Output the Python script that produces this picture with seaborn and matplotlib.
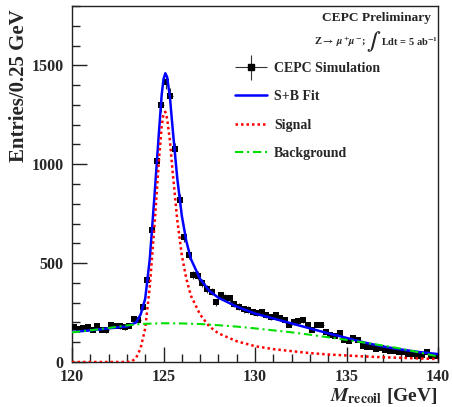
import numpy as np
import pandas as pd
import seaborn as sns
import matplotlib
matplotlib.use("Agg")
import matplotlib.pyplot as plt
from matplotlib.lines import Line2D
from matplotlib.ticker import MultipleLocator
from matplotlib.container import ErrorbarContainer
from matplotlib.legend_handler import HandlerErrorbar, HandlerTuple

# ---------------- data ----------------
bin_low = 120.0
bin_width = 0.25
counts = [
    177, 167, 172, 175, 163, 180, 163, 160, 189, 184, 180, 177, 184, 217, 211, 278,
    413, 669, 1016, 1300, 1416, 1347, 1075, 819, 632, 543, 440, 437, 398, 369, 356, 302,
    337, 325, 322, 293, 280, 266, 265, 254, 248, 251, 239, 228, 236, 222, 214, 189,
    200, 205, 211, 185, 163, 189, 189, 152, 138, 131, 148, 113, 108, 121, 113, 79,
    76, 74, 67, 69, 62, 57, 54, 51, 51, 42, 40, 32, 37, 51, 32, 30,
]

fit_x = [120, 121, 122, 123, 123.5, 123.75, 124, 124.25, 124.5, 124.75, 124.9, 125.0,
         125.1, 125.2, 125.35, 125.5, 125.75, 126, 126.25, 126.5, 127, 127.5, 128,
         129, 130, 131, 132, 133, 134, 135, 136, 137, 138, 139, 140]
fit_total = [152, 160, 170, 180, 200, 240, 320, 520, 830, 1160, 1350, 1430,
             1460, 1440, 1340, 1180, 930, 740, 610, 520, 420, 360, 325,
             280, 245, 220, 195, 170, 145, 122, 98, 78, 63, 50, 40]

sig_x = [120, 121, 122, 123, 123.25, 123.5, 123.75, 124, 124.25, 124.5, 124.75, 124.9,
         125.0, 125.1, 125.2, 125.35, 125.5, 125.75, 126, 126.25, 126.5, 127, 127.5,
         128, 129, 130, 131, 132, 133, 134, 135, 136, 137, 138, 139, 140]
sig_y = [0, 0, 0, 0, 2, 20, 70, 170, 380, 680, 1020, 1190,
         1255, 1265, 1230, 1120, 960, 720, 540, 420, 335, 240, 180,
         145, 105, 80, 65, 55, 45, 38, 33, 28, 24, 21, 18, 15]

bkg_x = [120, 121, 122, 123, 123.5, 124, 125, 126, 127, 128, 129, 130, 131, 132,
         133, 134, 135, 136, 137, 138, 139, 140]
bkg_y = [150, 160, 172, 185, 190, 193, 196, 195, 192, 186, 179, 170, 160, 150,
         138, 125, 112, 98, 83, 67, 48, 28]

labels = ["CEPC Simulation", "S+B Fit", "Signal", "Background"]

# ---------------- style ----------------
sns.set_style("ticks")
plt.rcParams["font.family"] = ["Liberation Serif", "DejaVu Serif"]
plt.rcParams["font.weight"] = "bold"
plt.rcParams["mathtext.fontset"] = "stix"
plt.rcParams["axes.linewidth"] = 1.0
plt.rcParams["axes.edgecolor"] = "#222222"

W, H = 453, 407
fig = plt.figure(figsize=(W / 100, H / 100), dpi=100)
ax = fig.add_axes([72 / W, 45 / H, 366 / W, 356 / H])

centers = bin_low + bin_width * (np.arange(len(counts)) + 0.5)
counts_arr = np.array(counts, dtype=float)
df = pd.DataFrame({"m": centers, "n": counts_arr})

errc = ax.errorbar(df["m"], df["n"], xerr=bin_width / 2, yerr=np.sqrt(df["n"]),
                   fmt="none", ecolor="#333333", elinewidth=0.8, zorder=2)
sns.scatterplot(data=df, x="m", y="n", marker="s", color="black", s=18,
                linewidth=0, ax=ax, zorder=3, legend=False)

sns.lineplot(x=fit_x, y=fit_total, color="#0000ff", lw=1.8, ax=ax, zorder=4)
sns.lineplot(x=sig_x, y=sig_y, color="#ff0000", lw=1.8, ax=ax, zorder=5,
             linestyle=(0, (1, 1.2)))
sns.lineplot(x=bkg_x, y=bkg_y, color="#00e000", lw=1.5, ax=ax, zorder=6,
             linestyle=(0, (4, 1.8, 1, 1.8)))

ax.set_xlim(120, 140)
ax.set_ylim(0, 1800)
ax.xaxis.set_major_locator(MultipleLocator(5))
ax.xaxis.set_minor_locator(MultipleLocator(1))
ax.yaxis.set_major_locator(MultipleLocator(500))
ax.yaxis.set_minor_locator(MultipleLocator(100))
ax.tick_params(which="both", direction="in", top=False, right=False,
               labelsize=11.5, color="#222222")
ax.tick_params(which="major", length=11, width=1)
ax.tick_params(which="minor", length=6, width=1)
ax.tick_params(axis="x", pad=5)
ax.tick_params(axis="y", pad=6)
ax.set_xlabel("")
ax.set_ylabel("")
for sp in ax.spines.values():
    sp.set_visible(True)

fig.text(19 / W, 1 - 9 / H, "Entries/0.25 GeV", rotation=90, ha="center",
         va="top", fontsize=15, fontweight="bold")
fig.text(438 / W, 1 - 401 / H, r"$\mathit{M}_{\mathrm{\mathbf{recoil}}}$ [GeV]",
         ha="right", va="baseline", fontsize=14, fontweight="bold")

# top-right text
fig.text(431 / W, 1 - 18 / H, "CEPC Preliminary", ha="right", va="center",
         fontsize=9.6, fontweight="bold")
fig.text(366 / W, 1 - 42 / H, r"Z$\rightarrow$ $\mu^{+}\mu^{-}$;", ha="right",
         va="center", fontsize=7.5, fontweight="bold")
fig.text(374 / W, 1 - 42 / H, r"$\int$", ha="center", va="center", fontsize=13)
fig.text(381 / W, 1 - 42 / H, r"Ldt = 5 ab$^{-1}$", ha="left", va="center",
         fontsize=7.5, fontweight="bold")

# legend
h_data = Line2D([], [], marker="s", color="black", ls="none", ms=4.2)
h_fit = Line2D([], [], color="#0000ff", lw=1.8)
h_sig = Line2D([], [], color="#ff0000", lw=1.8, ls=(0, (1, 1.2)))
h_bkg = Line2D([], [], color="#00e000", lw=1.5, ls=(0, (4, 1.8, 1, 1.8)))
leg = ax.legend([(errc, h_data), h_fit, h_sig, h_bkg], labels,
                loc="upper left", bbox_to_anchor=(235 / W, 1 - 62 / H),
                bbox_transform=fig.transFigure, frameon=False, fontsize=10,
                handlelength=2.3, handletextpad=0.5, labelspacing=1.1,
                borderpad=0, borderaxespad=0,
                handler_map={ErrorbarContainer: HandlerErrorbar(xerr_size=1.15, yerr_size=0.9),
                             tuple: HandlerTuple(ndivide=1)})
for t in leg.get_texts():
    t.set_fontweight("bold")

fig.savefig("out.png", dpi=100)
